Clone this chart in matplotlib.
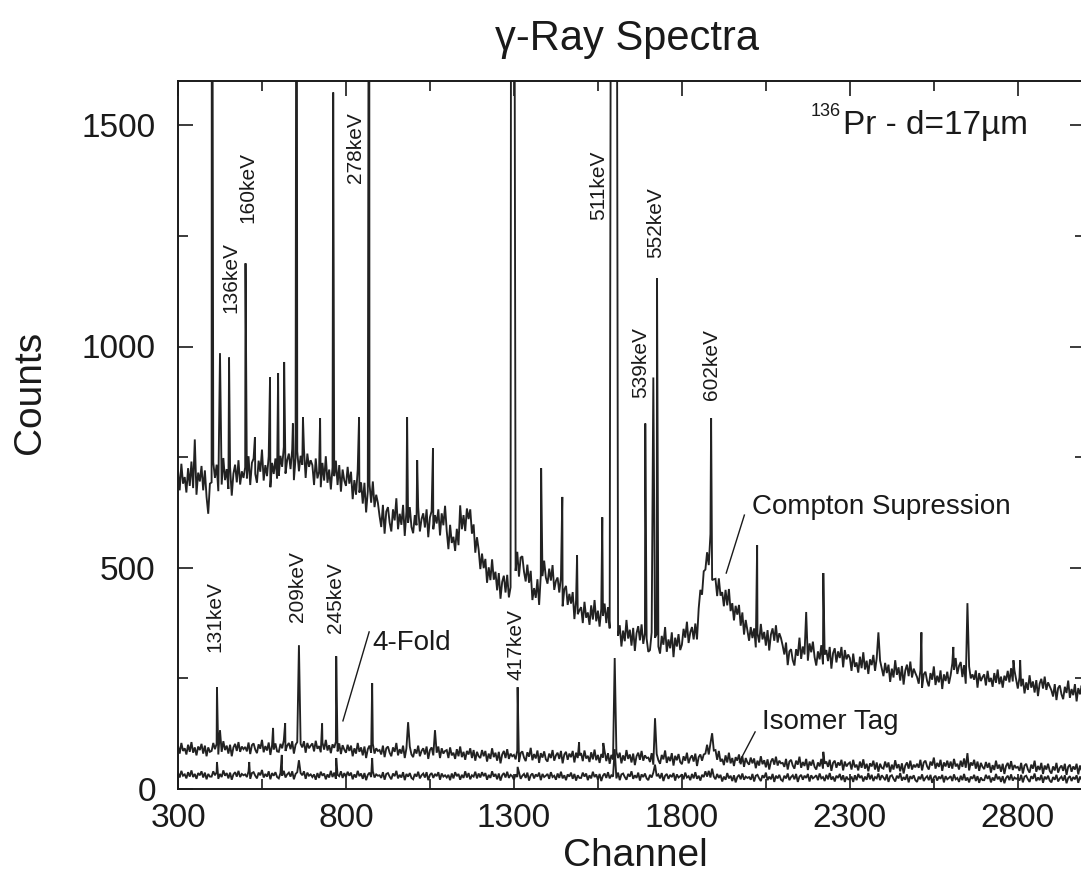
import numpy as np
import matplotlib
matplotlib.use("Agg")
import matplotlib.pyplot as plt
from matplotlib.ticker import MultipleLocator

plt.rcParams['font.family'] = ['Liberation Sans', 'DejaVu Sans']

# ---------------------------------------------------------------------------
# Spectra: continuum sampled every 5 channels (300 ... 2995), one row per
# 100 channels, plus the photopeaks listed separately (channel, counts).
# ---------------------------------------------------------------------------
grid_start, grid_step = 300, 5

compton_bg = [
    720, 675, 735, 690, 705, 670, 725, 685, 740, 680, 790, 665, 715, 695, 730, 675, 720, 660, 622, 690,
    693, 738, 703, 733, 673, 718, 688, 748, 698, 723, 678, 728, 663, 713, 733, 693, 743, 688, 718, 703,
    727, 702, 752, 687, 737, 747, 712, 692, 742, 717, 767, 697, 732, 707, 752, 682, 737, 712, 747, 702,
    708, 753, 728, 773, 713, 743, 758, 723, 768, 698, 748, 763, 718, 753, 733, 768, 703, 758, 728, 743,
    732, 687, 747, 702, 717, 682, 737, 697, 752, 692, 722, 677, 727, 707, 742, 687, 732, 672, 722, 697,
    685, 728, 690, 717, 655, 698, 665, 722, 670, 693, 645, 692, 625, 673, 690, 647, 695, 637, 665, 647,
    617, 592, 642, 577, 627, 637, 602, 582, 632, 607, 657, 587, 622, 597, 642, 572, 627, 602, 637, 592,
    578, 619, 596, 637, 582, 610, 623, 591, 632, 569, 614, 628, 587, 619, 600, 632, 573, 623, 596, 610,
    583, 542, 597, 556, 570, 538, 588, 551, 641, 587, 619, 583, 634, 610, 632, 577, 598, 534, 569, 541,
    497, 532, 499, 520, 466, 501, 472, 519, 473, 491, 449, 488, 430, 468, 482, 444, 484, 433, 456, 439,
    514, 493, 536, 480, 523, 526, 491, 469, 507, 466, 493, 427, 454, 432, 474, 416, 483, 481, 516, 478,
    464, 498, 471, 506, 450, 470, 478, 444, 478, 413, 451, 459, 416, 441, 419, 445, 384, 426, 395, 404,
    411, 375, 423, 387, 399, 371, 415, 383, 427, 379, 403, 367, 407, 391, 419, 375, 411, 363, 403, 383,
    338, 374, 346, 370, 322, 358, 334, 382, 340, 360, 324, 364, 312, 352, 368, 336, 372, 328, 352, 340,
    310, 314, 354, 302, 342, 350, 322, 306, 346, 326, 366, 310, 338, 318, 354, 298, 342, 322, 350, 314,
    326, 362, 342, 378, 330, 354, 366, 338, 374, 338, 408, 450, 439, 492, 496, 535, 506, 576, 472, 474,
    475, 436, 476, 437, 445, 413, 450, 415, 452, 402, 420, 381, 414, 394, 416, 369, 399, 349, 382, 359,
    335, 366, 341, 363, 320, 352, 331, 373, 338, 355, 324, 359, 313, 349, 363, 335, 370, 331, 352, 341,
    324, 304, 331, 280, 311, 316, 291, 279, 316, 301, 342, 294, 322, 304, 339, 290, 329, 309, 333, 298,
    279, 311, 293, 325, 282, 304, 314, 289, 321, 272, 307, 318, 286, 311, 296, 321, 275, 314, 293, 304,
    296, 267, 306, 276, 286, 263, 299, 273, 309, 270, 290, 260, 293, 280, 303, 267, 296, 257, 290, 273,
    255, 285, 262, 281, 242, 272, 252, 291, 258, 275, 245, 278, 236, 268, 281, 255, 288, 252, 272, 262,
    253, 238, 268, 229, 259, 265, 244, 232, 262, 247, 277, 235, 256, 241, 268, 226, 259, 244, 265, 238,
    257, 284, 269, 296, 260, 278, 287, 253, 280, 238, 268, 277, 250, 259, 247, 268, 229, 262, 244, 253,
    259, 234, 267, 242, 251, 231, 262, 240, 270, 237, 254, 229, 256, 245, 267, 241, 273, 243, 268, 247,
    227, 252, 232, 249, 216, 241, 224, 257, 229, 243, 218, 246, 210, 238, 249, 227, 254, 224, 241, 232,
    223, 209, 237, 201, 228, 234, 214, 203, 231, 217, 245, 206, 226, 212, 237, 198, 228, 214, 234, 209,
]
compton_peak_ch = [401, 425, 452, 501, 529, 574, 598, 616, 642, 653, 672,
                   723, 762, 839, 869, 982, 1012, 1059, 1095, 1292, 1295,
                   1300, 1381, 1444, 1488, 1563, 1590, 1595, 1600, 1605,
                   1691, 1715, 1726, 1887, 2024, 2170, 2221, 2385, 2513,
                   2608, 2650, 2787, 2807]
compton_peak_counts = [2600, 985, 975, 1188, 795, 930, 940, 965, 826, 2600,
                       840, 838, 1574, 840, 2600, 840, 743, 770, 640, 2600,
                       2600, 2600, 725, 660, 528, 614, 2600, 2600, 2600, 2600,
                       826, 930, 1154, 838, 551, 400, 488, 354, 354, 321, 420,
                       291, 291]

fourfold_bg = [
    98, 80, 104, 86, 92, 78, 100, 84, 106, 82, 94, 76, 96, 88, 102, 80, 98, 74, 94, 84,
    86, 104, 90, 102, 78, 96, 84, 108, 88, 98, 80, 100, 74, 94, 102, 86, 106, 84, 96, 90,
    95, 85, 105, 79, 99, 103, 89, 81, 101, 91, 111, 83, 97, 87, 105, 77, 99, 89, 103, 85,
    84, 102, 92, 110, 86, 98, 104, 90, 108, 80, 100, 106, 88, 102, 94, 108, 82, 104, 92, 98,
    103, 85, 109, 91, 97, 83, 105, 89, 111, 87, 99, 81, 101, 93, 107, 85, 103, 79, 99, 89,
    82, 100, 86, 98, 74, 92, 80, 104, 84, 94, 76, 96, 70, 90, 98, 82, 102, 80, 92, 86,
    88, 78, 98, 72, 92, 96, 82, 74, 94, 84, 104, 76, 90, 80, 98, 70, 92, 82, 96, 78,
    72, 90, 80, 98, 74, 86, 92, 78, 96, 68, 88, 94, 76, 90, 82, 96, 70, 92, 80, 86,
    88, 70, 94, 76, 82, 68, 90, 74, 96, 72, 84, 66, 86, 78, 92, 70, 88, 64, 84, 74,
    70, 88, 74, 86, 62, 80, 68, 92, 72, 82, 64, 84, 58, 78, 86, 70, 90, 68, 80, 74,
    77, 67, 87, 61, 81, 85, 71, 63, 83, 73, 93, 65, 79, 69, 87, 59, 81, 71, 85, 67,
    62, 80, 70, 88, 64, 76, 82, 68, 86, 58, 78, 84, 66, 80, 72, 86, 60, 82, 70, 76,
    81, 63, 87, 69, 75, 61, 83, 67, 89, 65, 77, 59, 79, 71, 85, 63, 81, 57, 77, 67,
    66, 84, 70, 82, 58, 76, 64, 88, 68, 78, 60, 80, 54, 74, 82, 66, 86, 64, 76, 70,
    71, 61, 81, 55, 75, 79, 65, 57, 77, 67, 87, 59, 73, 63, 81, 53, 75, 65, 79, 61,
    56, 74, 64, 82, 58, 70, 76, 62, 80, 52, 72, 78, 64, 78, 80, 100, 78, 103, 91, 87,
    88, 66, 86, 62, 68, 54, 76, 60, 82, 58, 70, 52, 72, 64, 78, 56, 74, 50, 70, 60,
    55, 71, 58, 69, 47, 64, 53, 74, 56, 65, 49, 67, 44, 62, 69, 55, 73, 53, 64, 58,
    59, 50, 68, 44, 62, 66, 53, 46, 64, 55, 73, 48, 61, 52, 68, 43, 62, 53, 66, 50,
    44, 60, 51, 68, 46, 57, 62, 50, 66, 41, 59, 64, 48, 60, 53, 66, 42, 62, 51, 57,
    60, 44, 66, 49, 55, 42, 62, 48, 67, 46, 57, 40, 58, 51, 64, 44, 60, 39, 57, 48,
    46, 62, 49, 60, 38, 55, 44, 65, 47, 56, 40, 58, 35, 53, 60, 46, 64, 44, 55, 49,
    57, 48, 66, 42, 60, 64, 51, 44, 62, 53, 71, 46, 59, 50, 66, 41, 60, 51, 64, 48,
    62, 46, 68, 51, 57, 44, 64, 50, 69, 48, 59, 42, 60, 53, 66, 46, 62, 41, 59, 50,
    45, 61, 48, 59, 37, 54, 43, 64, 46, 55, 39, 57, 34, 52, 59, 45, 63, 43, 54, 48,
    50, 41, 59, 35, 53, 57, 44, 37, 55, 46, 64, 39, 52, 43, 59, 34, 53, 44, 57, 41,
    35, 51, 42, 59, 37, 48, 53, 41, 57, 32, 50, 55, 39, 51, 44, 57, 33, 53, 42, 48,
]
fourfold_peak_ch = [416, 425, 583, 619, 660, 729, 771, 878, 985, 1065, 1311,
                    1494, 1566, 1600, 1720, 1890, 2221, 2650]
fourfold_peak_counts = [230, 133, 138, 149, 325, 148, 300, 239, 151, 133, 230,
                        106, 104, 296, 160, 126, 84, 81]

isomer_bg = [
    37, 26, 41, 30, 33, 24, 38, 28, 42, 27, 34, 23, 36, 31, 40, 26, 37, 22, 34, 28,
    28, 40, 31, 38, 23, 34, 27, 42, 30, 36, 24, 37, 21, 33, 38, 28, 41, 27, 34, 31,
    33, 27, 40, 23, 36, 38, 30, 24, 37, 31, 43, 26, 34, 28, 40, 22, 36, 30, 38, 27,
    24, 36, 30, 41, 26, 33, 37, 28, 40, 22, 34, 38, 27, 36, 31, 40, 23, 37, 30, 33,
    27, 33, 21, 36, 25, 39, 30, 35, 22, 33, 26, 41, 27, 37, 23, 32, 29, 40, 25, 36,
    27, 39, 30, 37, 22, 33, 26, 41, 29, 35, 23, 36, 20, 32, 37, 27, 40, 26, 33, 30,
    31, 25, 38, 21, 34, 36, 28, 22, 35, 29, 41, 24, 32, 26, 38, 20, 34, 28, 36, 25,
    22, 34, 28, 39, 24, 31, 35, 26, 38, 20, 32, 36, 25, 34, 29, 38, 21, 35, 28, 31,
    26, 32, 20, 35, 24, 38, 29, 34, 21, 32, 25, 40, 26, 36, 22, 31, 28, 39, 24, 35,
    26, 38, 29, 36, 21, 32, 25, 40, 28, 34, 22, 35, 19, 31, 36, 26, 39, 25, 32, 29,
    21, 33, 27, 38, 23, 30, 34, 25, 37, 19, 31, 35, 24, 33, 28, 37, 20, 34, 27, 30,
    34, 23, 38, 27, 30, 21, 35, 25, 39, 24, 31, 20, 33, 28, 37, 23, 34, 19, 31, 25,
    25, 37, 28, 35, 20, 31, 24, 39, 27, 33, 21, 34, 18, 30, 35, 25, 38, 24, 31, 28,
    30, 24, 37, 20, 33, 35, 27, 21, 34, 28, 40, 23, 31, 25, 37, 19, 33, 27, 35, 24,
    20, 32, 26, 37, 22, 29, 33, 24, 36, 18, 30, 34, 23, 32, 27, 36, 19, 33, 26, 29,
    33, 22, 37, 26, 29, 20, 34, 24, 38, 23, 30, 19, 32, 27, 40, 28, 41, 26, 38, 28,
    22, 34, 25, 32, 17, 28, 21, 36, 24, 30, 18, 31, 15, 27, 32, 22, 35, 21, 28, 25,
    27, 21, 34, 17, 30, 32, 24, 18, 31, 25, 37, 20, 28, 22, 34, 16, 30, 24, 32, 21,
    18, 30, 24, 35, 20, 27, 31, 22, 34, 16, 28, 32, 21, 30, 25, 34, 17, 31, 24, 27,
    31, 20, 35, 24, 27, 18, 32, 22, 36, 21, 28, 17, 30, 25, 34, 20, 31, 16, 28, 22,
    22, 28, 16, 31, 20, 34, 25, 30, 17, 28, 21, 36, 22, 32, 18, 27, 24, 35, 20, 31,
    26, 20, 33, 16, 29, 31, 23, 17, 30, 24, 36, 19, 27, 21, 33, 15, 29, 23, 31, 20,
    16, 28, 22, 33, 18, 25, 29, 20, 32, 14, 26, 30, 19, 28, 23, 32, 15, 29, 22, 25,
    29, 18, 33, 22, 25, 16, 30, 20, 34, 19, 26, 15, 28, 23, 32, 18, 29, 14, 26, 20,
    20, 32, 23, 30, 15, 26, 19, 34, 22, 28, 16, 29, 13, 25, 30, 20, 33, 19, 26, 23,
    25, 19, 32, 15, 28, 30, 22, 16, 29, 23, 35, 18, 26, 20, 32, 14, 28, 22, 30, 19,
    15, 27, 21, 32, 17, 24, 28, 19, 31, 13, 25, 29, 18, 27, 22, 31, 14, 28, 21, 24,
]
isomer_peak_ch = [416, 512, 609, 660, 771, 878, 1311, 1600, 1720, 1890]
isomer_peak_counts = [61, 61, 77, 65, 70, 70, 50, 90, 55, 46]

# Peak labels: (text, channel, counts at the foot of the rotated label)
peak_labels = [
    ("136keV", 458, 1075), ("160keV", 508, 1278), ("278keV", 827, 1369),
    ("511keV", 1551, 1285), ("552keV", 1723, 1199), ("539keV", 1676, 883),
    ("602keV", 1887, 878), ("131keV", 410, 309), ("209keV", 657, 377),
    ("245keV", 768, 352), ("417keV", 1307, 246),
]


def merge(bg, peak_ch, peak_counts):
    pts = {grid_start + grid_step * i: v for i, v in enumerate(bg)}
    pts.update(dict(zip(peak_ch, peak_counts)))
    ch = np.array(sorted(pts))
    return ch, np.array([pts[c] for c in ch])


W, H, DPI = 1081, 874, 100
fig = plt.figure(figsize=(W / DPI, H / DPI), dpi=DPI)
fig.patch.set_facecolor('white')

# axes box in pixels: left 178, right 1085, top 81, bottom 789
ax = fig.add_axes([178 / W, (H - 789) / H, (1085 - 178) / W, (789 - 81) / H])

ink = '#222222'
for bg, pc, pv in [(compton_bg, compton_peak_ch, compton_peak_counts),
                   (fourfold_bg, fourfold_peak_ch, fourfold_peak_counts),
                   (isomer_bg, isomer_peak_ch, isomer_peak_counts)]:
    x, y = merge(bg, pc, pv)
    ax.plot(x, y, color=ink, lw=1.35, solid_joinstyle='miter')

ax.set_xlim(300, 3000)
ax.set_ylim(0, 1600)

ax.set_xticks([300, 800, 1300, 1800, 2300, 2800])
ax.set_xticks([550, 1050, 1550, 2050, 2550], minor=True)
ax.yaxis.set_major_locator(MultipleLocator(500))
ax.yaxis.set_minor_locator(MultipleLocator(250))

ax.tick_params(which='both', direction='in', top=True, right=True,
               width=1.2, colors='#1a1a1a', labelsize=24)
ax.tick_params(which='major', length=11)
ax.tick_params(which='minor', length=7)
ax.tick_params(axis='x', pad=10)
ax.tick_params(axis='y', pad=16)
for s in ax.spines.values():
    s.set_linewidth(1.4)
    s.set_color('#1a1a1a')

txt = '#1a1a1a'
for label, ch, cnt in peak_labels:
    ax.text(ch, cnt, label, rotation=90, ha='center', va='bottom',
            fontsize=15, color=txt)

ax.text(2009, 637, "Compton Supression", fontsize=20, color=txt,
        ha='left', va='center')
ax.plot([1986, 1932], [619, 488], color=txt, lw=1.0)
ax.text(878, 330, "4-Fold", fontsize=20, color=txt, ha='left', va='center')
ax.plot([869, 791], [355, 154], color=txt, lw=1.0)
ax.text(2039, 151, "Isomer Tag", fontsize=20, color=txt, ha='left',
        va='center')
ax.plot([2018, 1971], [129, 61], color=txt, lw=1.0)

ax.text(2182, 1522, "136", fontsize=13, color=txt, ha='left', va='baseline')
ax.text(2280, 1481, "Pr - d=17\u00b5m", fontsize=24, color=txt, ha='left',
        va='baseline')

fig.text(627 / W, (H - 50) / H, "\u03b3-Ray Spectra", fontsize=30,
         color=txt, ha='center', va='baseline')
fig.text(30 / W, (H - 392) / H, "Counts", fontsize=28, color=txt,
         rotation=90, ha='center', va='center')
fig.text(635 / W, (H - 866) / H, "Channel", fontsize=28, color=txt,
         ha='center', va='baseline')

fig.savefig("out.png", dpi=DPI, facecolor='white')
